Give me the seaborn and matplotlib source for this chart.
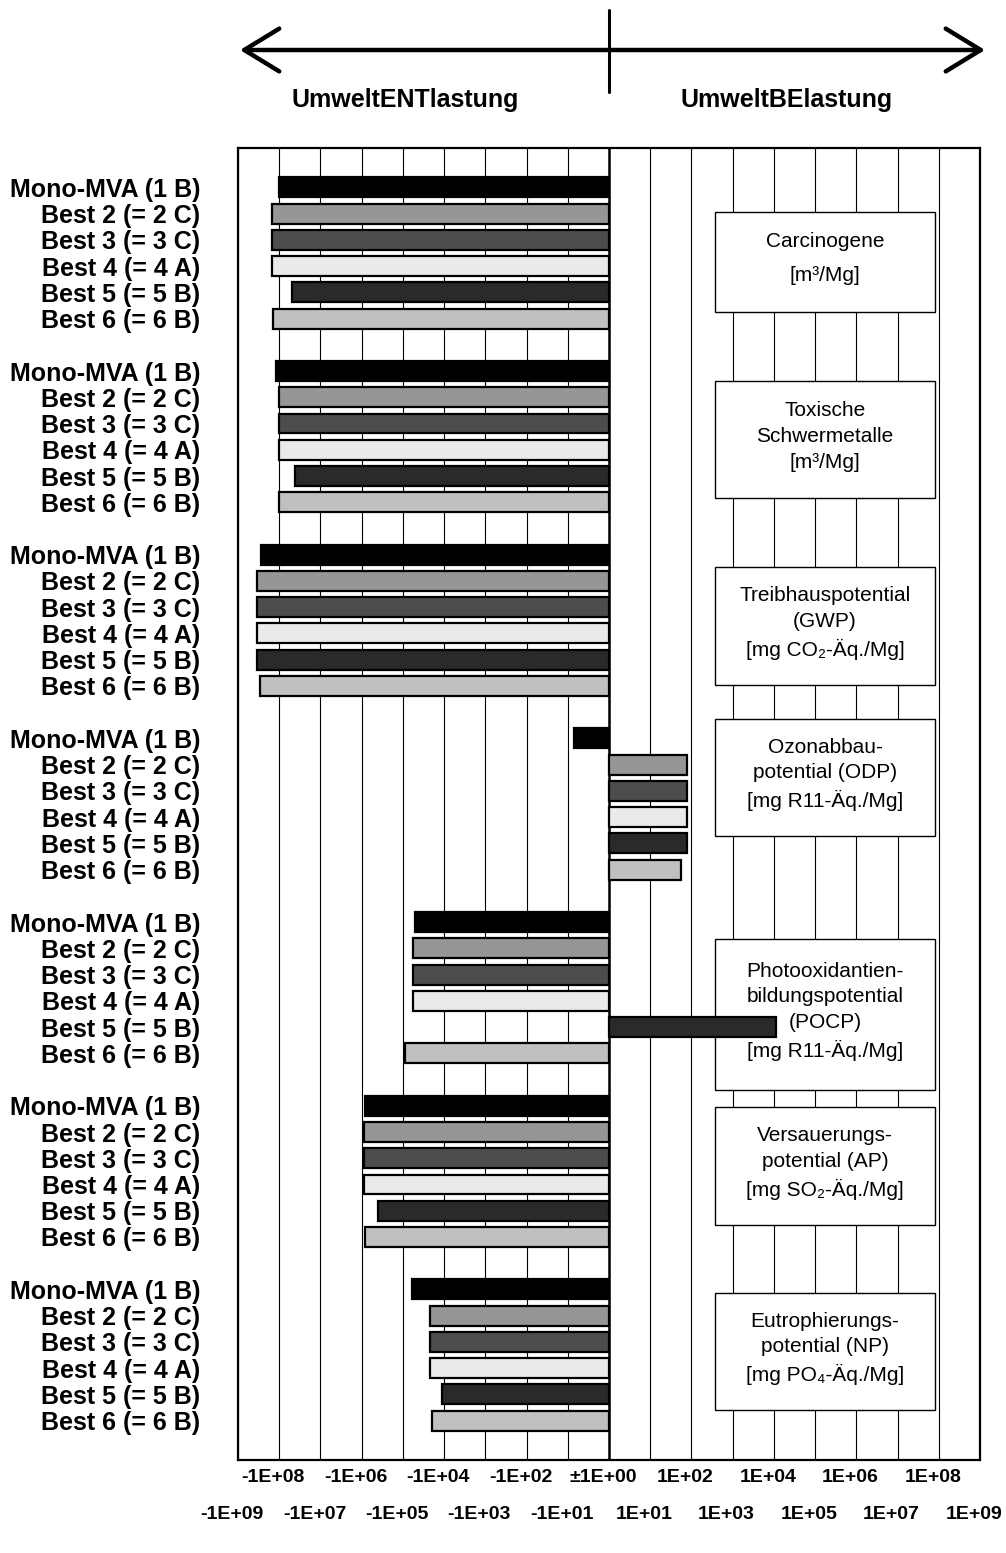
import matplotlib
matplotlib.use("Agg")
import matplotlib.pyplot as plt
from matplotlib.patches import Rectangle
from matplotlib.transforms import ScaledTranslation
import pandas as pd
import seaborn as sns

# bar values as signed decades (sign * log10|value|)
series = ["Mono-MVA (1 B)", "Best 2 (= 2 C)", "Best 3 (= 3 C)",
          "Best 4 (= 4 A)", "Best 5 (= 5 B)", "Best 6 (= 6 B)"]
colors = ["#000000", "#969696", "#4d4d4d", "#eaeaea", "#2a2a2a", "#c0c0c0"]

carcinogene_exp = [-8.00, -8.18, -8.18, -8.18, -7.69, -8.16]
toxische_exp = [-8.08, -8.00, -8.00, -8.00, -7.62, -8.00]
gwp_exp = [-8.45, -8.54, -8.54, -8.54, -8.54, -8.47]
odp_exp = [-0.85, 1.89, 1.89, 1.89, 1.89, 1.75]
pocp_exp = [-4.71, -4.76, -4.76, -4.76, 4.05, -4.95]
ap_exp = [-5.92, -5.95, -5.95, -5.95, -5.61, -5.92]
np_exp = [-4.78, -4.34, -4.34, -4.34, -4.05, -4.30]

groups = [carcinogene_exp, toxische_exp, gwp_exp, odp_exp, pocp_exp, ap_exp, np_exp]

box_labels = [
    "Carcinogene\n[m³/Mg]",
    "Toxische\nSchwermetalle\n[m³/Mg]",
    "Treibhauspotential\n(GWP)\n[mg CO₂-Äq./Mg]",
    "Ozonabbau-\npotential (ODP)\n[mg R11-Äq./Mg]",
    "Photooxidantien-\nbildungspotential\n(POCP)\n[mg R11-Äq./Mg]",
    "Versauerungs-\npotential (AP)\n[mg SO₂-Äq./Mg]",
    "Eutrophierungs-\npotential (NP)\n[mg PO₄-Äq./Mg]",
]
# vertical extent of each box in row units
box_spans = [(0.94, 4.75), (7.38, 11.84), (14.47, 18.97), (20.26, 24.72),
             (28.64, 34.40), (35.05, 39.54), (42.14, 46.59)]

tick_exps = list(range(-9, 10))

rows = []
for g, vals in enumerate(groups):
    for r, v in enumerate(vals):
        rows.append({"pos": g * 7 + r, "value": v, "series": series[r]})
df = pd.DataFrame(rows)

sns.set_style("white")
plt.rcParams["font.family"] = ["Liberation Sans", "DejaVu Sans"]
plt.rcParams["text.color"] = "black"
plt.rcParams["xtick.color"] = "black"
plt.rcParams["ytick.color"] = "black"

fig = plt.figure(figsize=(10.06, 15.53), dpi=100)
ax = fig.add_axes([238 / 1006, 93 / 1553, 742 / 1006, 1312 / 1553])

sns.barplot(
    data=df,
    x="value",
    y="pos",
    hue="series",
    hue_order=series,
    palette=colors,
    orient="h",
    native_scale=True,
    dodge=False,
    width=0.76,
    edgecolor="black",
    linewidth=1.6,
    legend=False,
    ax=ax,
    zorder=3,
)

ax.set_xlim(-9, 9)
ax.set_ylim(48.5, -1.5)
ax.set_xticks(tick_exps)
ax.set_xticklabels([])
ax.tick_params(axis="both", length=0)
ax.set_xlabel("")
ax.set_ylabel("")
ax.grid(axis="x", color="black", linewidth=0.8)
ax.grid(axis="y", visible=False)
ax.set_axisbelow(True)
ax.axvline(0, color="black", linewidth=1.8, zorder=2)
for s in ax.spines.values():
    s.set_color("black")
    s.set_linewidth(1.6)

ypos = [g * 7 + r for g in range(len(groups)) for r in range(len(series))]
ylabels = [series[r] for g in range(len(groups)) for r in range(len(series))]
ax.set_yticks(ypos)
ax.set_yticklabels(ylabels, fontsize=18, fontweight="bold", color="black")
ax.tick_params(axis="y", pad=27)

# x labels in two rows, nudged a little to the left like the original
tr = ax.get_xaxis_transform() + ScaledTranslation(-6 / 100, 0, fig.dpi_scale_trans)
for e in tick_exps:
    if e == 0:
        lab = "±1E+00"
    elif e < 0:
        lab = "-1E+%02d" % (-e)
    else:
        lab = "1E+%02d" % e
    yy = -0.0137 if e % 2 == 0 else -0.0419
    ax.text(e, yy, lab, transform=tr, ha="center", va="center",
            fontsize=14, fontweight="bold", color="black")

# boxes with impact categories
for (y0, y1), lab in zip(box_spans, box_labels):
    ax.add_patch(Rectangle((2.57, y0), 5.34, y1 - y0, facecolor="white",
                           edgecolor="black", linewidth=1.0, zorder=2.5))
    ls = 2.0 if lab.startswith("Carcinogene") else 1.45
    ax.text(5.24, (y0 + y1) / 2 - 0.12, lab, ha="center", va="center",
            fontsize=15, linespacing=ls, zorder=4, color="black")

# arrow on top
ax.annotate("", xy=(240 / 1006, 1 - 50 / 1553), xytext=(985 / 1006, 1 - 50 / 1553),
            xycoords="figure fraction", textcoords="figure fraction",
            arrowprops=dict(arrowstyle="<->,head_length=0.9,head_width=0.55",
                            lw=3.2, color="black", mutation_scale=28,
                            shrinkA=0, shrinkB=0))
fig.add_artist(plt.Line2D([609 / 1006, 609 / 1006], [1 - 10 / 1553, 1 - 92 / 1553],
                          color="black", linewidth=2.2))
fig.text(405 / 1006, 1 - 100 / 1553, "UmweltENTlastung", ha="center", va="center",
         fontsize=18, fontweight="bold", color="black")
fig.text(787 / 1006, 1 - 100 / 1553, "UmweltBElastung", ha="center", va="center",
         fontsize=18, fontweight="bold", color="black")

fig.savefig("out.png", dpi=100)
